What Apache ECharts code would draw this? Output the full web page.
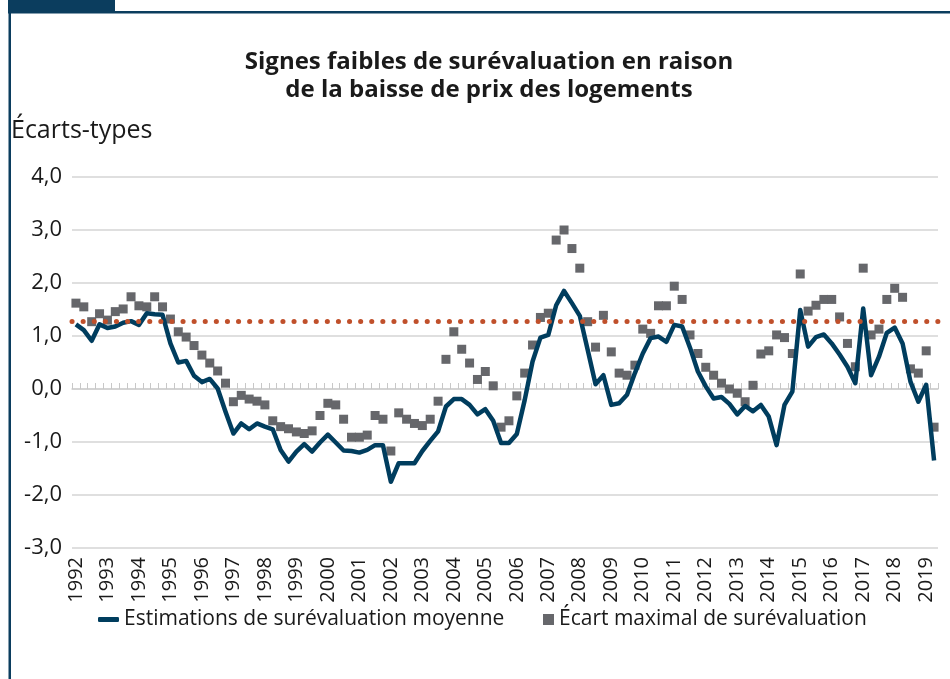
<!DOCTYPE html>
<html>
<head>
<meta charset="utf-8">
<script src="https://cdn.jsdelivr.net/npm/echarts@6/dist/echarts.min.js"></script>
<style>
  html, body { margin: 0; padding: 0; background: #fff; }
  #chart { width: 950px; height: 679px; }
</style>
</head>
<body>
<div id="chart"></div>
<script>
// données trimestrielles 1992T1 - 2019T2
var years = [1992, 1993, 1994, 1995, 1996, 1997, 1998, 1999, 2000, 2001, 2002, 2003, 2004, 2005,
  2006, 2007, 2008, 2009, 2010, 2011, 2012, 2013, 2014, 2015, 2016, 2017, 2018, 2019];
var nbQuarters = 110;

var moyenne = [
  1.22, 1.11, 0.91, 1.22, 1.15, 1.18, 1.25, 1.28, 1.21, 1.43,
  1.41, 1.40, 0.86, 0.50, 0.53, 0.25, 0.13, 0.19, 0.01, -0.43,
  -0.84, -0.65, -0.76, -0.65, -0.71, -0.76, -1.15, -1.37, -1.18, -1.04,
  -1.18, -1.01, -0.86, -1.01, -1.16, -1.17, -1.20, -1.15, -1.06, -1.06,
  -1.75, -1.40, -1.40, -1.40, -1.17, -0.98, -0.80, -0.33, -0.19, -0.19,
  -0.30, -0.48, -0.38, -0.60, -1.02, -1.02, -0.85, -0.21, 0.52, 0.97,
  1.02, 1.58, 1.85, 1.62, 1.38, 0.74, 0.09, 0.26, -0.30, -0.27,
  -0.11, 0.30, 0.67, 0.96, 0.99, 0.89, 1.21, 1.18, 0.78, 0.33,
  0.05, -0.18, -0.15, -0.28, -0.48, -0.32, -0.42, -0.30, -0.52, -1.06,
  -0.30, -0.05, 1.49, 0.80, 0.98, 1.03, 0.86, 0.65, 0.42, 0.11,
  1.52, 0.26, 0.61, 1.06, 1.16, 0.86, 0.14, -0.24, 0.08, -1.35
];

var ecartMax = [
  1.62, 1.55, 1.27, 1.42, 1.30, 1.46, 1.51, 1.74, 1.57, 1.55,
  1.74, 1.55, 1.32, 1.08, 0.98, 0.82, 0.64, 0.49, 0.34, 0.11,
  -0.24, -0.12, -0.19, -0.23, -0.30, -0.60, -0.71, -0.75, -0.81, -0.84,
  -0.79, -0.50, -0.27, -0.30, -0.57, -0.91, -0.91, -0.87, -0.50, -0.57,
  -1.17, -0.45, -0.57, -0.65, -0.69, -0.57, -0.23, 0.56, 1.08, 0.75,
  0.49, 0.18, 0.33, 0.06, -0.72, -0.60, -0.13, 0.30, 0.83, 1.35,
  1.43, 2.81, 3.00, 2.65, 2.28, 1.27, 0.79, 1.39, 0.70, 0.30,
  0.26, 0.45, 1.13, 1.05, 1.57, 1.57, 1.94, 1.69, 1.02, 0.67,
  0.41, 0.26, 0.11, 0.00, -0.08, -0.24, 0.07, 0.66, 0.72, 1.02,
  0.97, 0.67, 2.17, 1.47, 1.58, 1.69, 1.69, 1.36, 0.86, 0.42,
  2.28, 1.02, 1.13, 1.69, 1.90, 1.73, 0.38, 0.30, 0.72, -0.72
];

// seuil de surévaluation (ligne pointillée)
var seuil = 1.28;

var quarters = [];
years.forEach(function (y) {
  for (var q = 1; q <= 4; q++) quarters.push(y + 'T' + q);
});
quarters = quarters.slice(0, nbQuarters);

var navy = '#003d5e';
var gris = '#66676b';
var font = '"Open Sans", Lato, sans-serif';

var chart = echarts.init(document.getElementById('chart'));
var option = {
  animation: false,
  title: [
    {
      text: 'Signes faibles de surévaluation en raison\nde la baisse de prix des logements',
      left: 484,
      top: 43,
      textAlign: 'center',
      textStyle: { fontFamily: font, fontWeight: 'bold', fontSize: 24, lineHeight: 28, color: '#1a1a1a' }
    },
    {
      text: 'Écarts-types',
      left: 6,
      top: 113,
      textStyle: { fontFamily: font, fontWeight: 'normal', fontSize: 25, color: '#1a1a1a' }
    }
  ],
  legend: [
    {
      data: [{ name: 'Estimations de surévaluation moyenne', icon: 'roundRect' }],
      left: 93,
      bottom: 44,
      itemWidth: 21,
      itemHeight: 5,
      itemGap: 8,
      textStyle: { fontFamily: font, fontSize: 21, color: '#1a1a1a' }
    },
    {
      data: ['Écart maximal de surévaluation'],
      left: 538,
      bottom: 44,
      itemWidth: 11,
      itemHeight: 11,
      textStyle: { fontFamily: font, fontSize: 21, color: '#1a1a1a' }
    }
  ],
  grid: { left: 72, right: 12, top: 177, bottom: 131 },
  xAxis: [
    {
      type: 'category',
      data: quarters,
      boundaryGap: true,
      axisLine: { show: false, onZero: false },
      axisTick: { show: false },
      axisLabel: {
        interval: 3,
        rotate: 90,
        margin: 9,
        fontFamily: font,
        fontSize: 20,
        color: '#1a1a1a',
        formatter: function (v) { return v.slice(0, 4); }
      }
    },
    {
      // axe au niveau zéro avec les petites graduations trimestrielles
      type: 'category',
      data: quarters,
      boundaryGap: true,
      position: 'bottom',
      axisLine: { show: true, onZero: true, lineStyle: { color: '#d0d0d0', width: 1.5 } },
      axisTick: { show: true, inside: true, length: 6, interval: 0, lineStyle: { color: '#c8c8c8', width: 1 } },
      axisLabel: { show: false }
    }
  ],
  yAxis: {
    type: 'value',
    min: -3,
    max: 4,
    interval: 1,
    axisLine: { show: false },
    axisTick: { show: false },
    splitLine: { lineStyle: { color: '#d4d4d4', width: 1.5 } },
    axisLabel: {
      margin: 10,
      fontFamily: font,
      fontSize: 22,
      color: '#1a1a1a',
      formatter: function (v) { return v.toFixed(1).replace('.', ','); }
    }
  },
  series: [
    {
      name: 'Estimations de surévaluation moyenne',
      type: 'line',
      data: moyenne,
      symbol: 'none',
      z: 3,
      lineStyle: { color: navy, width: 4.5, join: 'round' },
      itemStyle: { color: navy },
      markLine: {
        silent: true,
        symbol: 'none',
        label: { show: false },
        lineStyle: { color: '#c0502b', width: 5, type: [0.1, 11], cap: 'round' },
        data: [{ yAxis: seuil }]
      }
    },
    {
      name: 'Écart maximal de surévaluation',
      type: 'scatter',
      data: ecartMax,
      symbol: 'rect',
      symbolSize: 9,
      z: 2,
      itemStyle: { color: gris, opacity: 1 }
    }
  ],
  graphic: [
    { type: 'rect', shape: { x: 8, y: 0, width: 107, height: 13 }, style: { fill: '#0b3d5e' } },
    { type: 'rect', shape: { x: 8, y: 11, width: 942, height: 2.5 }, style: { fill: '#0b3d5e' } },
    { type: 'rect', shape: { x: 8.5, y: 11, width: 2.5, height: 668 }, style: { fill: '#0b3d5e' } }
  ]
};
chart.setOption(option);
</script>
</body>
</html>
